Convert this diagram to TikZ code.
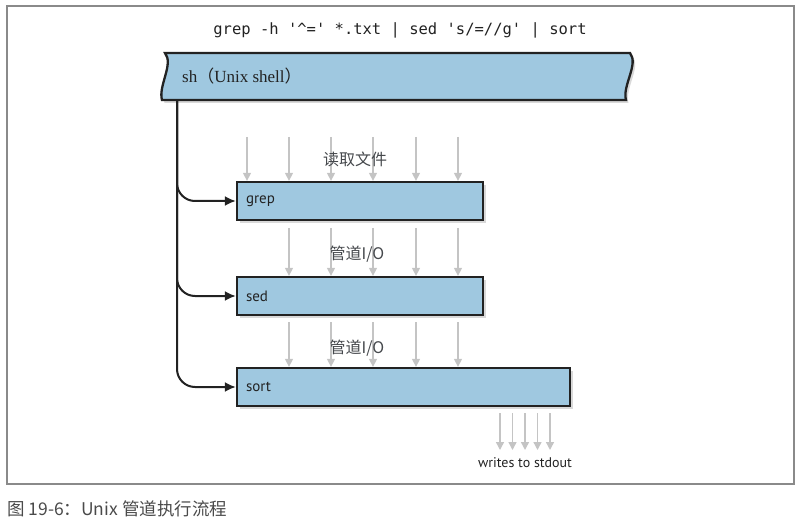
\documentclass[tikz,border=0pt]{standalone}
\usepackage{fontspec}
\setmainfont{Liberation Serif}
\setsansfont{PT Sans}
\setmonofont{DejaVu Sans Mono}
\newfontfamily\cjksans{Noto Sans CJK SC}
\usetikzlibrary{arrows.meta,shadows}
\definecolor{boxblue}{HTML}{9FC8E0}
\definecolor{arrowgray}{HTML}{C4C4C4}
\definecolor{framegray}{HTML}{8A8A8A}
\definecolor{inkdark}{HTML}{222222}
\definecolor{labelgray}{HTML}{45484C}
\definecolor{captiongray}{HTML}{4A4A4A}
\begin{document}
\begin{tikzpicture}[x=1pt,y=-1pt,
  boxshadow/.style={drop shadow={opacity=0.3,shadow xshift=2.5pt,shadow yshift=-3pt}},
  procbox/.style={draw=inkdark, line width=2.3pt, fill=boxblue, boxshadow,
    minimum height=38pt, inner sep=0pt},
  proctext/.style={anchor=west, inner sep=0pt, font=\sffamily\fontsize{15}{17}\selectfont, text=inkdark},
  feed/.style={draw=arrowgray, line width=1.4pt, -{Triangle[width=8pt,length=8pt]}},
  branch/.style={draw=inkdark, line width=2pt, rounded corners=18pt, -{Latex[width=10pt,length=11pt]}},
  cjklabel/.style={font=\cjksans\fontsize{16}{18}\selectfont, text=labelgray, inner sep=0pt}
]
\useasboundingbox (0,0) rectangle (802,526);
% frame
\draw[framegray, line width=2.2pt] (7,6) rectangle (794,484);
% command
\node[font=\ttfamily\fontsize{15.5}{18}\selectfont, text=inkdark, inner sep=0pt] (cmd) at (400,30)
  {grep -h '\textasciicircum=' *.txt | sed 's/=//g' | sort};
% shell banner
\draw[draw=inkdark, line width=2.3pt, fill=boxblue, boxshadow]
  (165,53) -- (630,53) .. controls (639,64) and (622,86) .. (626,100)
  -- (162,100) .. controls (158,86) and (174,64) .. cycle;
\node[anchor=west, inner sep=0pt, font=\fontsize{17}{19}\selectfont, text=inkdark] (sh) at (182,76)
  {sh{\cjksans （}Unix shell{\cjksans ）}};
\coordinate (shbot) at (177,100);
% process boxes
\node[procbox, minimum width=246pt] (grep) at (360,201) {};
\node[proctext] (greptxt) at ([xshift=10pt]grep.west) {grep};
\node[procbox, minimum width=246pt] (sed) at (360,296) {};
\node[proctext] (sedtxt) at ([xshift=10pt]sed.west) {sed};
\node[procbox, minimum width=333pt] (sort) at (403.5,387) {};
\node[proctext] (sorttxt) at ([xshift=10pt]sort.west) {sort};
% branches from shell
\draw[branch] (shbot) |- (grep.west);
\draw[branch] (shbot) |- (sed.west);
\draw[branch] (shbot) |- (sort.west);
% read files
\foreach \x in {247,289,331,373,416,458} {
  \coordinate (r\x) at (\x,137);
  \draw[feed] (r\x) -- (r\x |- grep.north);
}
\node[cjklabel] (readlbl) at (355,159) {读取文件};
% pipe I/O 1
\foreach \x in {289,331,373,416,458} {
  \coordinate (p\x) at (\x,228);
  \draw[feed] (p\x) -- (p\x |- sed.north);
}
\node[cjklabel] (pipe1) at (357,254) {管道I/O};
% pipe I/O 2
\foreach \x in {289,331,373,416,458} {
  \coordinate (q\x) at (\x,322);
  \draw[feed] (q\x) -- (q\x |- sort.north);
}
\node[cjklabel] (pipe2) at (357,348) {管道I/O};
% stdout
\foreach \x [count=\i] in {500,512.5,525,537.5,550} {
  \coordinate (s\i) at (\x,413);
  \coordinate (e\i) at (\x,450);
  \draw[feed] (s\i) -- (e\i);
}
\node[font=\sffamily\fontsize{14}{16}\selectfont, text=inkdark, inner sep=0pt] (stdout) at (525,463) {writes to stdout};
% caption
\node[anchor=west, font=\cjksans\fontsize{17.5}{20}\selectfont, text=captiongray, inner sep=0pt] (cap) at (7,509)
  {图 19-6：Unix 管道执行流程};
\end{tikzpicture}
\end{document}
